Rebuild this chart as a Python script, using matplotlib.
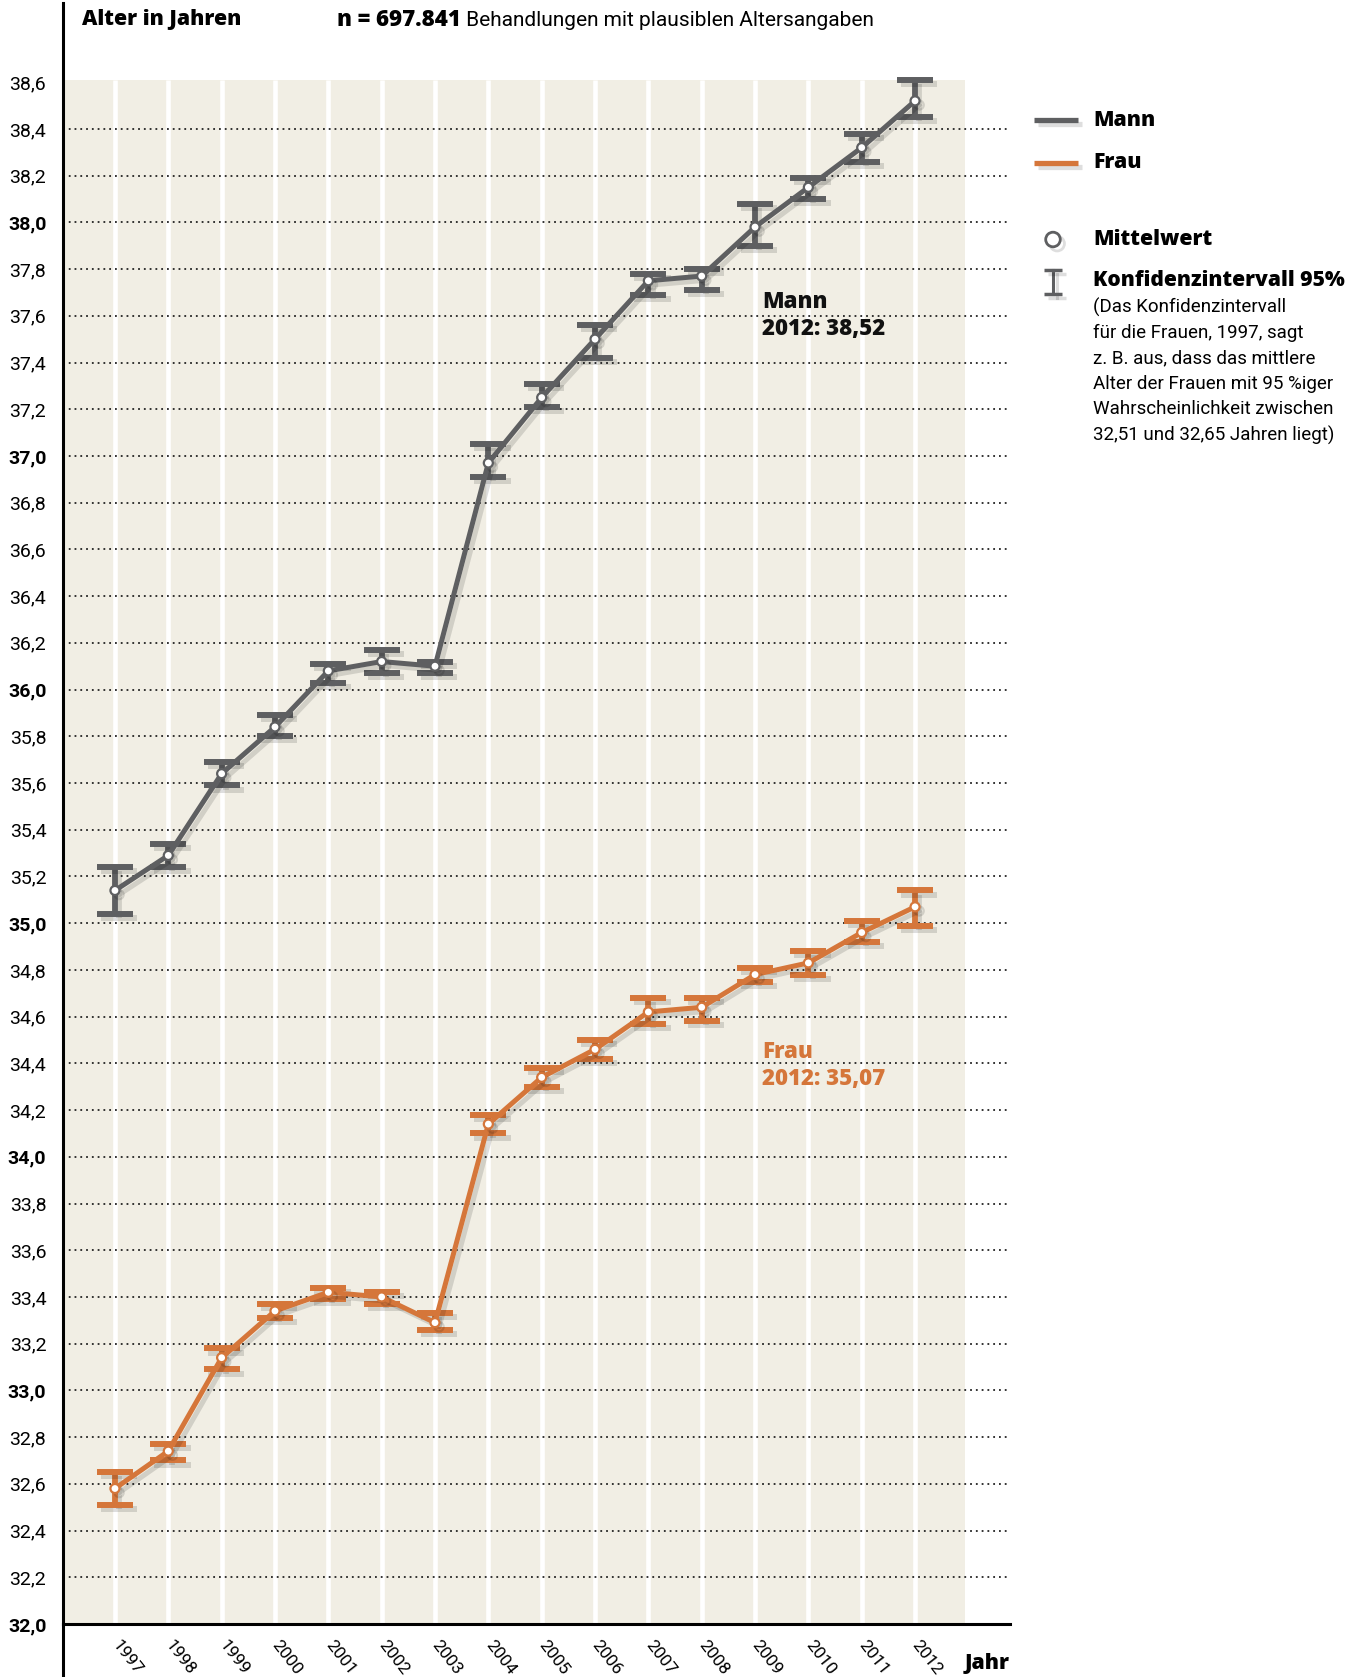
import matplotlib
matplotlib.use('Agg')
import matplotlib.pyplot as plt
import matplotlib.patheffects as pe
from matplotlib.lines import Line2D

years = list(range(1997, 2013))

mann = [35.14, 35.29, 35.64, 35.84, 36.08, 36.12, 36.10, 36.97,
        37.25, 37.50, 37.75, 37.77, 37.98, 38.15, 38.32, 38.52]
mann_lo = [35.04, 35.24, 35.59, 35.80, 36.03, 36.07, 36.07, 36.91,
           37.21, 37.42, 37.69, 37.71, 37.90, 38.10, 38.26, 38.45]
mann_hi = [35.24, 35.34, 35.69, 35.89, 36.11, 36.17, 36.12, 37.05,
           37.31, 37.56, 37.78, 37.80, 38.08, 38.19, 38.38, 38.61]

frau = [32.58, 32.74, 33.14, 33.34, 33.42, 33.40, 33.29, 34.14,
        34.34, 34.46, 34.62, 34.64, 34.78, 34.83, 34.96, 35.07]
frau_lo = [32.51, 32.70, 33.09, 33.31, 33.39, 33.37, 33.26, 34.10,
           34.30, 34.42, 34.57, 34.58, 34.75, 34.78, 34.92, 34.99]
frau_hi = [32.65, 32.77, 33.18, 33.37, 33.44, 33.42, 33.33, 34.18,
           34.38, 34.50, 34.68, 34.68, 34.81, 34.88, 35.01, 35.14]

yticks = [round(32.0 + 0.2 * i, 1) for i in range(34)]
note = ['(Das Konfidenzintervall',
        'für die Frauen, 1997, sagt',
        'z. B. aus, dass das mittlere',
        'Alter der Frauen mit 95 %iger',
        'Wahrscheinlichkeit zwischen',
        '32,51 und 32,65 Jahren liegt)']

GRAY = '#5e5f61'
ORANGE = '#d5763a'
BEIGE = '#f1eee4'
HEAVY = ['Open Sans', 'DejaVu Sans']
HW = 800
NARROW = ['Liberation Sans Narrow', 'Roboto', 'DejaVu Sans']
REG = ['Roboto', 'DejaVu Sans']

W, H = 1360, 1677
fig = plt.figure(figsize=(W / 100, H / 100), dpi=100)


def fx(px):
    return px / W


def fy(py):
    return 1 - py / H


ax = fig.add_axes([fx(63), fy(1624), (1010 - 63) / W, (1624 - 3) / H])
ax.set_xlim(1996.026, 2013.78)
ax.set_ylim(32.0, 38.939)

# background columns
ax.fill_between([1996.04, 2012.94], 32.0, 38.61, color=BEIGE, lw=0, zorder=0)
ax.vlines(years, 32.0, 38.61, color='white', lw=3.3, zorder=1)
ax.hlines(yticks[1:-1], 1996.03, 2013.75, color='#222222', lw=1.3,
          linestyles=[(0, (1, 2.2))], zorder=2)

shadow = [pe.SimpleLineShadow(offset=(3, -3), shadow_color='black', alpha=0.13), pe.Normal()]

for vals, lo, hi, col in [(mann, mann_lo, mann_hi, GRAY), (frau, frau_lo, frau_hi, ORANGE)]:
    err = [[v - l for v, l in zip(vals, lo)], [h - v for v, h in zip(vals, hi)]]
    eb = ax.errorbar(years, vals, yerr=err, fmt='none', ecolor=col, elinewidth=4.2,
                     capsize=13, capthick=4.3, zorder=3)
    for c in eb.lines[1]:
        c.set_path_effects(shadow)
    for c in eb.lines[2]:
        c.set_path_effects(shadow)
    ax.plot(years, vals, color=col, lw=3.6, marker='o', ms=6.5, mfc='white',
            mec=col, mew=1.6, zorder=4, path_effects=shadow)

for s in ['top', 'right']:
    ax.spines[s].set_visible(False)
ax.spines['left'].set_linewidth(2.2)
ax.spines['bottom'].set_linewidth(2.2)
fig.add_artist(Line2D([fx(63), fx(63)], [0, fy(1624)], transform=fig.transFigure,
                      color='black', lw=2.2))

ax.set_yticks(yticks)
ax.set_yticklabels([('%.1f' % t).replace('.', ',') for t in yticks])
ax.tick_params(axis='y', length=0, pad=12)
for lbl, t in zip(ax.get_yticklabels(), yticks):
    lbl.set_family(NARROW)
    lbl.set_fontsize(14)
    if abs(t - round(t)) < 1e-6:
        lbl.set_fontweight('bold')

ax.set_xticks(years)
ax.set_xticklabels([str(y) for y in years], rotation=-52, rotation_mode='anchor',
                   ha='left', va='center', family=NARROW, fontsize=12.5)
ax.tick_params(axis='x', length=0, pad=13)

# annotations
ax.text(2009.13, 37.60, 'Mann\n2012: 38,52', family=HEAVY, fontweight=HW,
        fontsize=16, color='#111111', va='center', ha='left', linespacing=1.16)
ax.text(2009.13, 34.39, 'Frau\n2012: 35,07', family=HEAVY, fontweight=HW,
        fontsize=16, color=ORANGE, va='center', ha='left', linespacing=1.16)

# header
fig.text(fx(82), fy(20), 'Alter in Jahren', family=HEAVY, fontweight=HW,
         fontsize=15.3, va='center')
t1 = fig.text(fx(337), fy(20), 'n = 697.841', family=HEAVY, fontweight=HW,
              fontsize=16, va='center')
ax.annotate(' Behandlungen mit plausiblen Altersangaben', xy=(1, 0.5), xycoords=t1,
            va='center', ha='left', family=REG, fontsize=15)
fig.text(fx(1010), fy(1663), 'Jahr', family=HEAVY, fontweight=HW,
         fontsize=15.3, ha='right', va='center')

# legend
for py, col, lab in [(120, GRAY, 'Mann'), (162.5, ORANGE, 'Frau')]:
    fig.add_artist(Line2D([fx(1034), fx(1078)], [fy(py), fy(py)], transform=fig.transFigure,
                          color=col, lw=3.8, solid_capstyle='butt', path_effects=shadow))
    fig.text(fx(1093), fy(py), lab, family=HEAVY, fontweight=HW, fontsize=15.3,
             va='center')
fig.add_artist(Line2D([fx(1053)], [fy(239.5)], transform=fig.transFigure, marker='o',
                      ms=10.5, mfc='white', mec=GRAY, mew=2, path_effects=shadow))
fig.text(fx(1093), fy(239.5), 'Mittelwert', family=HEAVY, fontweight=HW,
         fontsize=15.3, va='center')
fig.add_artist(Line2D([fx(1053), fx(1053)], [fy(270), fy(294)], transform=fig.transFigure,
                      color=GRAY, lw=2.2, path_effects=shadow))
for py in [270, 294]:
    fig.add_artist(Line2D([fx(1044), fx(1062)], [fy(py), fy(py)], transform=fig.transFigure,
                          color=GRAY, lw=2.5, solid_capstyle='butt', path_effects=shadow))
fig.text(fx(1093), fy(281), 'Konfidenzintervall 95%', family=HEAVY, fontweight=HW,
         fontsize=15.1, va='center')
for i, line in enumerate(note):
    fig.text(fx(1093), fy(307 + 25.6 * i), line, family=REG, fontsize=13.5, va='center')

fig.savefig('out.png', dpi=100, facecolor='white')
